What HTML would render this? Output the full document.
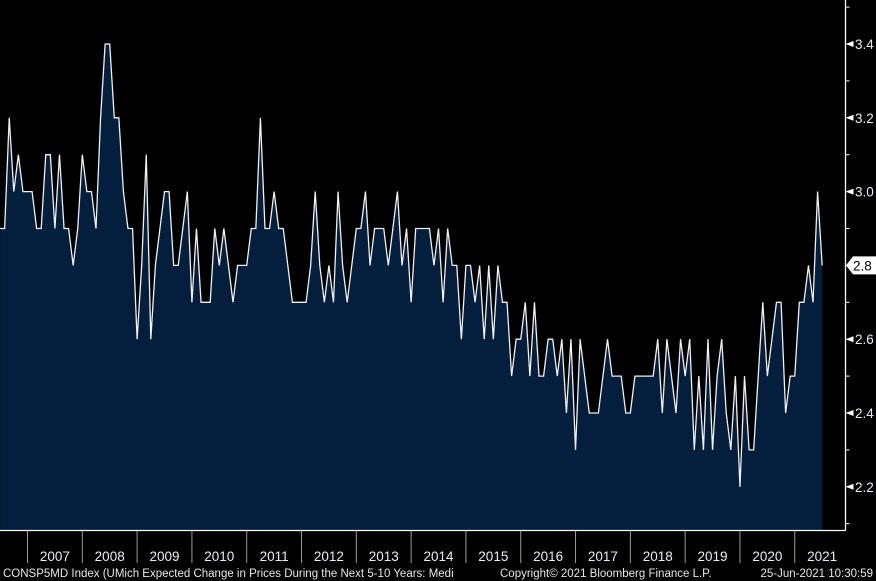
<!DOCTYPE html>
<html><head><meta charset="utf-8"><style>
html,body{margin:0;padding:0;background:#000;}
svg{display:block;font-family:"Liberation Sans",sans-serif;}
</style></head><body>
<svg id="chart" width="876" height="581" viewBox="0 0 876 581" xmlns="http://www.w3.org/2000/svg">
<rect x="0" y="0" width="876" height="581" fill="#000"/>
<g id="plot"></g>
<g id="yaxis"></g>
<g id="xaxis"></g>
<text x="3" y="577" fill="#e8e8e8" font-size="11.5">CONSP5MD Index (UMich Expected Change in Prices During the Next 5-10 Years: Medi</text>
<text x="500" y="577" fill="#e8e8e8" font-size="11.5">Copyright© 2021 Bloomberg Finance L.P.</text>
<text x="873" y="577" text-anchor="end" fill="#e8e8e8" font-size="11.5">25-Jun-2021 10:30:59</text>
</svg>
<script>
// monthly values, index 0 = Jun 2006 ... index 180 = Jun 2021
const values = [2.9,2.9,3.2,3.0,3.1,3.0,3.0,3.0,2.9,2.9,3.1,3.1,2.9,3.1,2.9,2.9,2.8,2.9,3.1,3.0,
3.0,2.9,3.2,3.4,3.4,3.2,3.2,3.0,2.9,2.9,2.6,2.8,3.1,2.6,2.8,2.9,3.0,3.0,2.8,2.8,
2.9,3.0,2.7,2.9,2.7,2.7,2.7,2.9,2.8,2.9,2.8,2.7,2.8,2.8,2.8,2.9,2.9,3.2,2.9,2.9,
3.0,2.9,2.9,2.8,2.7,2.7,2.7,2.7,2.8,3.0,2.8,2.7,2.8,2.7,3.0,2.8,2.7,2.8,2.9,2.9,
3.0,2.8,2.9,2.9,2.9,2.8,2.9,3.0,2.8,2.9,2.7,2.9,2.9,2.9,2.9,2.8,2.9,2.7,2.9,2.8,
2.8,2.6,2.8,2.8,2.7,2.8,2.6,2.8,2.6,2.8,2.7,2.7,2.5,2.6,2.6,2.7,2.5,2.7,2.5,2.5,
2.6,2.6,2.5,2.6,2.4,2.6,2.3,2.6,2.5,2.4,2.4,2.4,2.5,2.6,2.5,2.5,2.5,2.4,2.4,2.5,
2.5,2.5,2.5,2.5,2.6,2.4,2.6,2.5,2.4,2.6,2.5,2.6,2.3,2.5,2.3,2.6,2.3,2.5,2.6,2.4,
2.3,2.5,2.2,2.5,2.3,2.3,2.5,2.7,2.5,2.6,2.7,2.7,2.4,2.5,2.5,2.7,2.7,2.8,2.7,3.0,2.8];
const yearLabels = ["2007","2008","2009","2010","2011","2012","2013","2014","2015","2016","2017","2018","2019","2020","2021"];
const majorTicks = [2.2,2.4,2.6,2.8,3.0,3.2,3.4];
const minorTicks = [2.1,2.3,2.5,2.7,2.9,3.1,3.3,3.5];
const lastValueLabel = "2.8";

const NS="http://www.w3.org/2000/svg";
const X0=27.5, MW=4.567, FIRST_JAN=6;
function xScale(i){return X0+(i-FIRST_JAN)*MW;}
function yScale(v){return 44+(3.4-v)*369;}
const BASE=530, AXX=845.5;
function mk(tag,attrs,parent){const e=document.createElementNS(NS,tag);for(const k in attrs)e.setAttribute(k,attrs[k]);parent.appendChild(e);return e;}
const plot=document.getElementById('plot'),ya=document.getElementById('yaxis'),xa=document.getElementById('xaxis');

let pts=values.map((v,i)=>xScale(i).toFixed(2)+","+yScale(v).toFixed(2));
const area=mk('polygon',{points:xScale(0).toFixed(2)+","+BASE+" "+pts.join(" ")+" "+xScale(values.length-1).toFixed(2)+","+BASE,fill:"#031f3d"},plot);


const line=mk('polyline',{points:pts.join(" "),fill:"none",stroke:"#f0f0f0","stroke-width":"1.3","stroke-linejoin":"miter"},plot);



// axes lines
const vl=mk('line',{x1:AXX,y1:0,x2:AXX,y2:BASE+0.5,stroke:"#fff","stroke-width":"1.3"},ya);


const hl=mk('line',{x1:0,y1:BASE+0.5,x2:AXX,y2:BASE+0.5,stroke:"#fff","stroke-width":"1.3"},xa);



minorTicks.forEach(v=>{
  const t=mk('line',{x1:AXX,y1:yScale(v),x2:AXX+4,y2:yScale(v),stroke:"#fff","stroke-width":"1"},ya);
  
  
});
majorTicks.forEach(v=>{
  const y=yScale(v);
  const tri=mk('polygon',{points:AXX+","+y+" "+(AXX+8)+","+(y-3)+" "+(AXX+8)+","+(y+3),fill:"#fff"},ya);
  
  
  const tx=mk('text',{x:855,y:y+5,fill:"#e8eef8","font-size":"13.5"},ya);
  tx.textContent=v.toFixed(1);
  
  
});
// last value marker
const ly=yScale(values[values.length-1]);
const box=mk('polygon',{points:"846,"+ly+" 853,"+(ly-9)+" 876,"+(ly-9)+" 876,"+(ly+9)+" 853,"+(ly+9),fill:"#fff"},ya);


const lt=mk('text',{x:853,y:ly+5,fill:"#000","font-size":"13.5"},ya);
lt.textContent=lastValueLabel;



yearLabels.forEach((lab,k)=>{
  const xs=xScale(FIRST_JAN+k*12);
  const sep=mk('line',{x1:xs,y1:BASE+1,x2:xs,y2:563,stroke:"#9a9a9a","stroke-width":"1"},xa);
  
  
  const t=mk('text',{x:xs+MW*6,y:561,"text-anchor":"middle",fill:"#e8eef8","font-size":"13.5"},xa);
  t.textContent=lab;
  
  
});
</script>
</body></html>
